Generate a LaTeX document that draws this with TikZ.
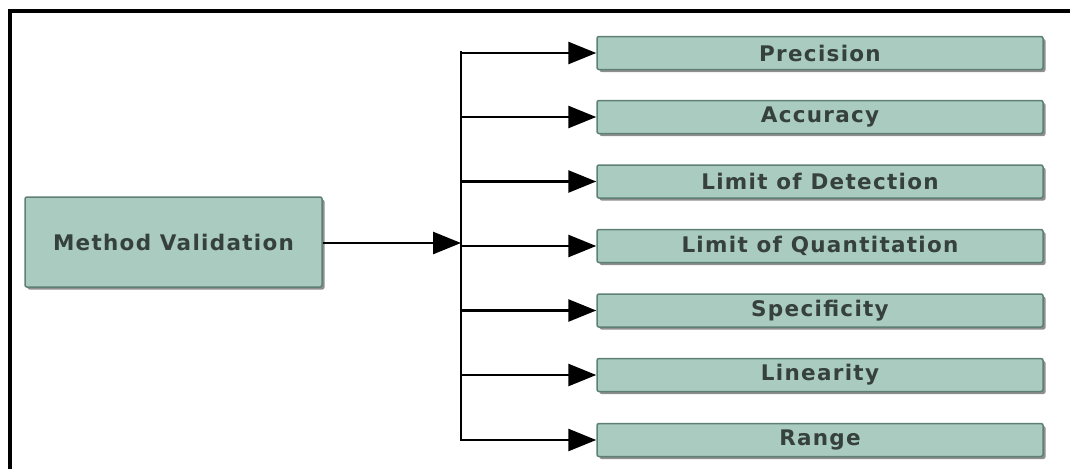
\documentclass[tikz,border=0pt]{standalone}
\usepackage{fontspec}
\setmainfont{DejaVu Sans}
\newfontfamily\boxfont[LetterSpace=6]{DejaVu Sans}
\usetikzlibrary{arrows.meta,shadows}
\definecolor{boxfill}{HTML}{A9CBC0}
\definecolor{boxline}{HTML}{5E7F76}
\definecolor{txt}{HTML}{36403D}
\tikzset{
  cbox/.style={draw=boxline, line width=1.5pt, fill=boxfill, rounded corners=2pt,
    drop shadow={shadow xshift=2.5pt, shadow yshift=-2.5pt, fill=black!55, opacity=0.8},
    text=txt, font=\boxfont\fontsize{21.5}{23}\selectfont\bfseries, inner sep=0pt},
  mbox/.style={cbox, minimum width=297pt, minimum height=90pt},
  rbox/.style={cbox, minimum width=446pt, minimum height=33pt},
  conn/.style={line width=2.7pt, -{Triangle[length=28pt,width=22pt]}},
  frame/.style={line width=4pt}
}
\begin{document}
\begin{tikzpicture}[x=1pt,y=-1pt]
\useasboundingbox (0,0) rectangle (1070,469);
\draw[frame] (10,469) -- (10,11) -- (1070,11);
\node[mbox] (mv) at (173.5,242) {Method Validation};
\node[rbox] (p) at (820,53) {Precision};
\node[rbox] (a) at (820,117) {Accuracy};
\node[rbox] (lod) at (820,181.5) {Limit of Detection};
\node[rbox] (loq) at (820,246) {Limit of Quantitation};
\node[rbox] (s) at (820,310.5) {Specificity};
\node[rbox] (l) at (820,375) {Linearity};
\node[rbox] (r) at (820,440) {Range};
\coordinate (top) at (461,52);
\coordinate (bot) at (461,440);
\coordinate (hub) at (461,243);
\draw[line width=2.7pt, line cap=rect] (top) -- (bot);
\draw[conn] (mv.east |- hub) -- (hub);
\foreach \n in {p,a,lod,loq,s,l,r}{
  \draw[conn] (top |- \n.west) -- (\n.west);
}
\end{tikzpicture}
\end{document}
